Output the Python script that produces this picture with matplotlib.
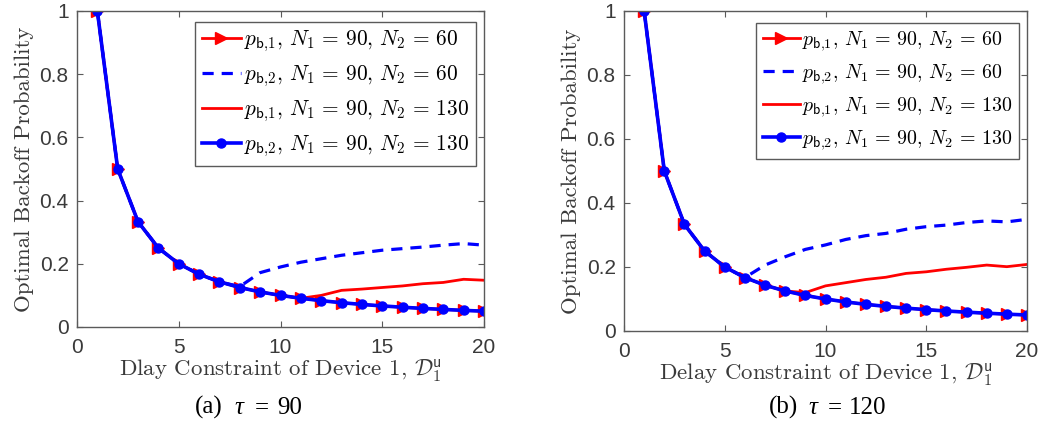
import numpy as np
import matplotlib
matplotlib.use('Agg')
import matplotlib.pyplot as plt

plt.rcParams['mathtext.fontset'] = 'cm'
plt.rcParams['font.family'] = ['Liberation Sans', 'DejaVu Sans']

# Delay constraint D_1^u
delay = np.arange(1, 21)

# tau = 90
pb1_n60_a = [1.0, 0.5, 0.333, 0.25, 0.2, 0.167, 0.143, 0.125, 0.111, 0.1,
             0.0909, 0.0833, 0.0769, 0.0714, 0.0667, 0.0625, 0.0588, 0.0556, 0.0526, 0.05]
pb2_n60_a = [1.0, 0.5, 0.333, 0.25, 0.2, 0.167, 0.143, 0.128, 0.172, 0.19,
             0.205, 0.216, 0.227, 0.235, 0.243, 0.248, 0.253, 0.259, 0.264, 0.259]
pb1_n130_a = [1.0, 0.5, 0.333, 0.25, 0.2, 0.167, 0.143, 0.125, 0.111, 0.1,
              0.0909, 0.100, 0.116, 0.120, 0.125, 0.130, 0.137, 0.141, 0.151, 0.148]
pb2_n130_a = [1.0, 0.5, 0.333, 0.25, 0.2, 0.167, 0.143, 0.125, 0.111, 0.1,
              0.0909, 0.0833, 0.0769, 0.0714, 0.0667, 0.0625, 0.0588, 0.0556, 0.0526, 0.05]

# tau = 120
pb1_n60_b = [1.0, 0.5, 0.333, 0.25, 0.2, 0.167, 0.143, 0.125, 0.111, 0.1,
             0.0909, 0.0833, 0.0769, 0.0714, 0.0667, 0.0625, 0.0588, 0.0556, 0.0526, 0.05]
pb2_n60_b = [1.0, 0.5, 0.333, 0.25, 0.2, 0.167, 0.206, 0.232, 0.255, 0.269,
             0.286, 0.298, 0.305, 0.318, 0.326, 0.331, 0.339, 0.344, 0.341, 0.349]
pb1_n130_b = [1.0, 0.5, 0.333, 0.25, 0.2, 0.167, 0.143, 0.125, 0.12, 0.141,
              0.151, 0.161, 0.168, 0.180, 0.185, 0.193, 0.199, 0.206, 0.201, 0.208]
pb2_n130_b = [1.0, 0.5, 0.333, 0.25, 0.2, 0.167, 0.143, 0.125, 0.111, 0.1,
              0.0909, 0.0833, 0.0769, 0.0714, 0.0667, 0.0625, 0.0588, 0.0556, 0.0526, 0.05]

labels = [r'$p_{\mathsf{b}{,}1},\, N_1 \,=\, 90,\, N_2 \,=\, 60$',
          r'$p_{\mathsf{b}{,}2},\, N_1 \,=\, 90,\, N_2 \,=\, 60$',
          r'$p_{\mathsf{b}{,}1},\, N_1 \,=\, 90,\, N_2 \,=\, 130$',
          r'$p_{\mathsf{b}{,}2},\, N_1 \,=\, 90,\, N_2 \,=\, 130$']

W, H = 1047, 425

panels = [
    dict(pos=[77 / W, 1 - 327 / H, 407 / W, 316 / H],
         legend_anchor=(0.980, 0.965), legend_size=15.4,
         series=[pb1_n60_a, pb2_n60_a, pb1_n130_a, pb2_n130_a],
         xlabel='Dlay Constraint of Device 1, ',
         caption=[('(a)', 195, 'normal'), ('\u03c4', 234, 'italic'),
                  ('=', 255, 'normal'), ('90', 277, 'normal')]),
    dict(pos=[624 / W, 1 - 331 / H, 403 / W, 320 / H],
         legend_anchor=(0.980, 0.9625), legend_size=14.4,
         series=[pb1_n60_b, pb2_n60_b, pb1_n130_b, pb2_n130_b],
         xlabel='Delay Constraint of Device 1, ',
         caption=[('(b)', 769, 'normal'), ('\u03c4', 808, 'italic'),
                  ('=', 828, 'normal'), ('120', 849, 'normal')]),
]

axcol = '#5a5a5a'
txtcol = '#3a3a3a'
fig = plt.figure(figsize=(W / 100, H / 100), dpi=100)

for p in panels:
    ax = fig.add_axes(p['pos'])
    s1, s2, s3, s4 = p['series']
    ax.plot(delay, s1, color='red', lw=2.0, marker='>', ms=8.5, mfc='red', mec='red', label=labels[0])
    ax.plot(delay, s2, color='blue', lw=2.3, ls=(0, (3.5, 2.5)), label=labels[1])
    ax.plot(delay, s3, color='red', lw=2.0, label=labels[2])
    ax.plot(delay, s4, color='blue', lw=2.6, marker='o', ms=6.5, mfc='blue', mec='blue', label=labels[3])

    ax.set_xlim(0, 20)
    ax.set_ylim(0, 1)
    ax.set_xticks([0, 5, 10, 15, 20])
    ax.set_yticks([0, 0.2, 0.4, 0.6, 0.8, 1])
    ax.set_yticklabels(['0', '0.2', '0.4', '0.6', '0.8', '1'])
    ax.tick_params(direction='in', top=True, right=True, labelsize=15,
                   colors=axcol, labelcolor=txtcol, length=4, width=0.8)
    ax.tick_params(axis='y', pad=6)
    ax.tick_params(axis='x', pad=8)
    for sp in ax.spines.values():
        sp.set_color(axcol)
        sp.set_linewidth(1.0)

    ax.set_ylabel('Optimal Backoff Probability', fontfamily='cmr10', fontsize=16.5,
                  color=txtcol, labelpad=4)
    ax.set_xlabel(p['xlabel'] + r'$\mathcal{D}_1^{\mathsf{u}}$', fontfamily='cmr10',
                  fontsize=16.5, color=txtcol, labelpad=0)

    leg = ax.legend(loc='upper right', bbox_to_anchor=p['legend_anchor'], borderaxespad=0,
                    fontsize=p['legend_size'], numpoints=1, fancybox=False, framealpha=1,
                    edgecolor=axcol, handlelength=1.85, handletextpad=0.12,
                    borderpad=0.32, labelspacing=0.46)
    leg.get_frame().set_linewidth(1.0)

    # caption under each panel: "(x)  tau = value"
    for txt, xpix, style in p['caption']:
        fig.text(xpix / W, 1 - 414 / H, txt, fontfamily='Liberation Serif', fontsize=18,
                 fontstyle=style, ha='left', va='baseline', color='black')

fig.savefig('out.png', dpi=100)
